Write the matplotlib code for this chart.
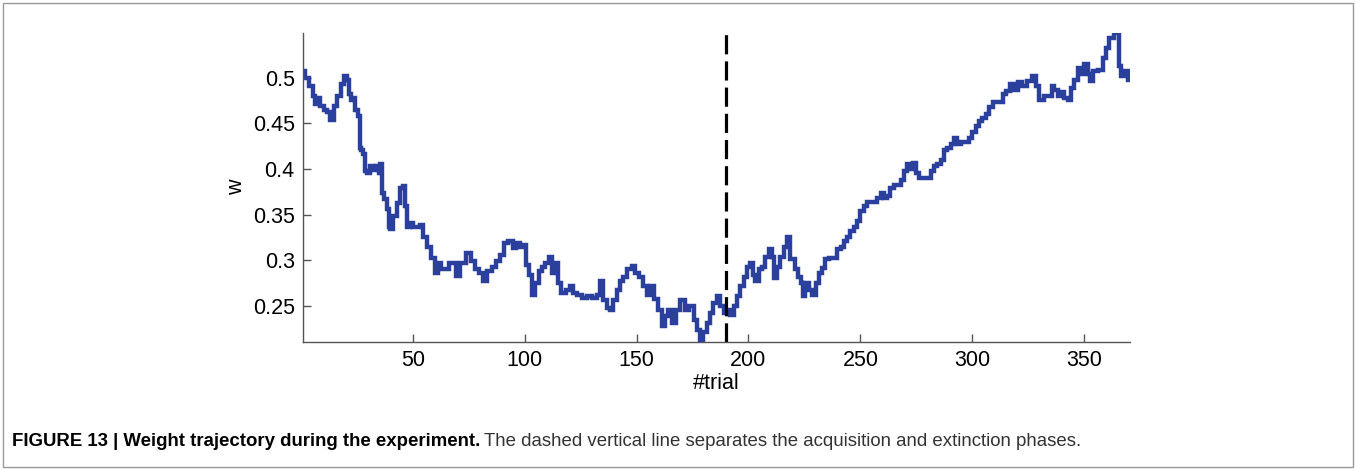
import matplotlib.pyplot as plt
from matplotlib.patches import Rectangle

# weight trajectory (trial, w)
trials = [1, 3, 4.5, 6, 7, 8, 9.5, 11, 12.5, 14, 15.5, 17, 18.5, 20, 21, 21.7, 23, 24, 24.7, 26,
          26.5, 27.5, 28.5, 29, 30.5, 31.5, 33, 34.5, 35, 36, 36.5, 38, 39, 39.6, 40.5, 42, 43.5, 45, 46, 47,
          48, 49.5, 51, 52.5, 54, 55, 57.5, 59, 60.5, 62, 63.5, 65.5, 67, 68.5, 70, 72.5, 75.5, 77, 78.5, 80.5,
          82, 84.5, 86, 88, 90, 91.5, 94, 95.5, 97, 98.5, 100, 101, 102.5, 104, 105.5, 107, 108.5, 110, 111.5, 112.7,
          114.2, 115.7, 117.2, 119.4, 121, 122.4, 124.7, 126.9, 129.2, 131.4, 132.9, 134.4, 135.9, 137.4, 138.9, 140.4, 141.8, 143.4, 144.8, 147.1,
          148.5, 150, 152.3, 153.8, 155.3, 156.8, 158.5, 160.5, 162, 163.5, 165, 166.5, 168.7, 170.5, 172.4, 174.7, 176.2, 177.7, 179.2, 180.6,
          182.1, 183.6, 185.1, 186.6, 188.1, 189.6, 191.1, 192.6, 194.1, 195.6, 197.1, 198.6, 200, 201.3, 202.3, 203.8, 205.3, 206.8, 208.3, 209.8,
          211.2, 212, 213.5, 215, 216.5, 218, 218.7, 220.2, 221.7, 222.9, 224, 224.7, 226.2, 227.7, 229.2, 230.7, 232.2, 233.6, 235.2, 236.6,
          238.9, 240.4, 241.9, 243.4, 244.8, 246.3, 247.8, 249.3, 250.8, 252.3, 253.8, 256.8, 258.3, 259.8, 261.3, 262.7, 264.2, 265.7, 267.2, 268.7,
          270.2, 271.7, 272.9, 273.9, 275.5, 276.9, 280.7, 282.2, 283.7, 285.1, 286.7, 288.1, 289.6, 291.1, 292.6, 294.1, 295.6, 297.8, 299.3, 300.8,
          302.3, 303.8, 305.3, 306.8, 308.3, 309.8, 312.8, 314.2, 315.8, 318, 319.5, 321, 323.2, 325.5, 327.7, 329.2, 330.7, 333, 335.2, 335.9,
          337.4, 338.9, 339.7, 341.9, 343.4, 344.9, 346.4, 347.8, 349.3, 350.8, 352.3, 353.1, 354.6, 357.5, 359, 360.5, 362, 365, 365.7, 367.2,
          368.7, 370]
w = [0.507, 0.500, 0.491, 0.480, 0.471, 0.478, 0.469, 0.465, 0.463, 0.454, 0.469, 0.480, 0.493, 0.502, 0.498, 0.482, 0.476, 0.478, 0.465, 0.458,
     0.423, 0.421, 0.416, 0.398, 0.396, 0.403, 0.399, 0.403, 0.396, 0.405, 0.374, 0.367, 0.356, 0.337, 0.334, 0.348, 0.363, 0.379, 0.381, 0.359,
     0.337, 0.341, 0.336, 0.336, 0.339, 0.326, 0.315, 0.303, 0.286, 0.297, 0.290, 0.290, 0.297, 0.297, 0.283, 0.297, 0.308, 0.299, 0.290, 0.286,
     0.277, 0.288, 0.293, 0.299, 0.306, 0.319, 0.321, 0.314, 0.319, 0.315, 0.317, 0.295, 0.284, 0.262, 0.275, 0.288, 0.293, 0.297, 0.304, 0.286,
     0.297, 0.275, 0.264, 0.268, 0.272, 0.264, 0.262, 0.259, 0.261, 0.259, 0.262, 0.277, 0.257, 0.248, 0.246, 0.257, 0.268, 0.277, 0.282, 0.290,
     0.294, 0.286, 0.282, 0.272, 0.262, 0.272, 0.258, 0.246, 0.228, 0.239, 0.246, 0.231, 0.246, 0.257, 0.246, 0.250, 0.235, 0.224, 0.212, 0.222,
     0.231, 0.242, 0.253, 0.261, 0.250, 0.242, 0.246, 0.240, 0.250, 0.261, 0.272, 0.282, 0.293, 0.297, 0.284, 0.277, 0.290, 0.293, 0.304, 0.312,
     0.304, 0.281, 0.293, 0.304, 0.315, 0.326, 0.301, 0.301, 0.290, 0.282, 0.275, 0.261, 0.275, 0.268, 0.262, 0.275, 0.286, 0.292, 0.301, 0.303,
     0.303, 0.312, 0.315, 0.321, 0.326, 0.332, 0.336, 0.343, 0.354, 0.359, 0.364, 0.364, 0.368, 0.374, 0.368, 0.370, 0.379, 0.383, 0.383, 0.388,
     0.398, 0.405, 0.400, 0.407, 0.396, 0.390, 0.390, 0.398, 0.403, 0.405, 0.410, 0.421, 0.423, 0.427, 0.434, 0.427, 0.430, 0.430, 0.434, 0.441,
     0.447, 0.453, 0.456, 0.460, 0.468, 0.473, 0.473, 0.482, 0.485, 0.493, 0.487, 0.495, 0.491, 0.496, 0.502, 0.491, 0.476, 0.480, 0.480, 0.491,
     0.487, 0.480, 0.484, 0.478, 0.476, 0.489, 0.498, 0.511, 0.504, 0.515, 0.504, 0.496, 0.507, 0.509, 0.522, 0.533, 0.544, 0.549, 0.513, 0.502,
     0.507, 0.497]

phase_split = 190
x_ticks = [50, 100, 150, 200, 250, 300, 350]
y_ticks = [0.25, 0.3, 0.35, 0.4, 0.45, 0.5]
y_ticklabels = ['0.25', '0.3', '0.35', '0.4', '0.45', '0.5']

plt.rcParams['font.family'] = ['Liberation Sans', 'DejaVu Sans']

fig = plt.figure(figsize=(13.56, 4.70), dpi=100)
ax = fig.add_axes([0.2235, 0.2723, 0.6099, 0.6575])

ax.plot(trials, w, drawstyle='steps-mid', color='#2b3f9c', lw=3.2, solid_joinstyle='miter')
ax.axvline(phase_split, color='black', lw=2.3, dashes=(6, 2.2))

ax.set_xlim(1, 370.5)
ax.set_ylim(0.2105, 0.549)
ax.set_xticks(x_ticks)
ax.set_yticks(y_ticks)
ax.set_yticklabels(y_ticklabels)

for side in ['top', 'right']:
    ax.spines[side].set_visible(False)
for side in ['left', 'bottom']:
    ax.spines[side].set_color('#555555')
    ax.spines[side].set_linewidth(1.0)
ax.tick_params(direction='in', length=6, width=1, color='#555555', labelsize=15.5, pad=6)
ax.set_xlabel('#trial', fontsize=15.5, labelpad=1)
ax.set_ylabel('w', fontsize=15.5, labelpad=4)

# frame around the whole figure
fig.patches.append(Rectangle((0.0025, 0.006), 0.995, 0.988, transform=fig.transFigure,
                             fill=False, edgecolor='#999999', lw=1.0))

# caption: bold head, then normal text
cap_font = ['Liberation Sans', 'DejaVu Sans']
head = fig.text(12 / 1356, 1 - 441 / 470, 'FIGURE 13 | Weight trajectory during the experiment.',
                fontsize=13.4, fontweight='bold', family=cap_font, va='center', ha='left')
fig.canvas.draw()
bb = head.get_window_extent()
fig.text(bb.x1 / fig.bbox.width + 0.003, 1 - 441 / 470,
         'The dashed vertical line separates the acquisition and extinction phases.',
         fontsize=13.4, family=cap_font, color='#333333', va='center', ha='left')

fig.savefig('out.png', dpi=100)
